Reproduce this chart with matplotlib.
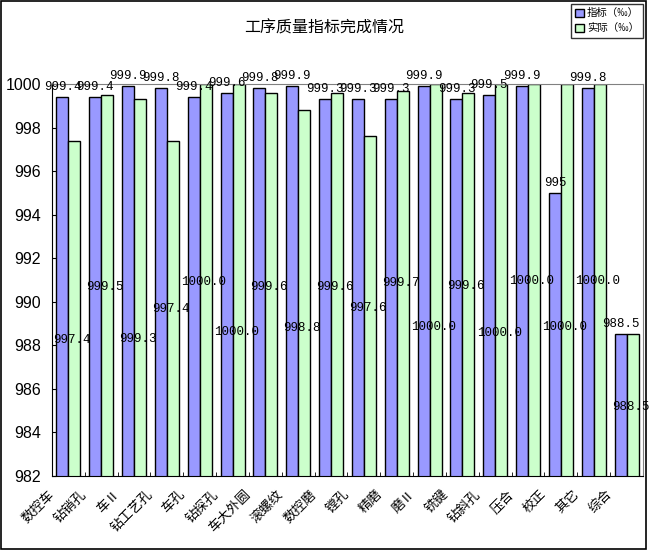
import matplotlib.pyplot as plt
from matplotlib.patches import Rectangle
import matplotlib.transforms as mtransforms
import numpy as np

plt.rcParams['font.family'] = ['Noto Sans CJK SC', 'DejaVu Sans']

# categories and values
categories = ['数控车', '钻销孔', '车Ⅱ', '钻工艺孔', '车孔', '钻探孔', '车大外圆', '滚螺纹', '数控磨',
              '镗孔', '精磨', '磨Ⅱ', '铣键', '钻斜孔', '压合', '校正', '其它', '综合']
target = [999.4, 999.4, 999.9, 999.8, 999.4, 999.6, 999.8, 999.9, 999.3,
          999.3, 999.3, 999.9, 999.3, 999.5, 999.9, 995, 999.8, 988.5]
actual = [997.4, 999.5, 999.3, 997.4, 1000.0, 1000.0, 999.6, 998.8, 999.6,
          997.6, 999.7, 1000.0, 999.6, 1000.0, 1000.0, 1000.0, 1000.0, 988.5]
target_text = ['999.4', '999.4', '999.9', '999.8', '999.4', '999.6', '999.8', '999.9', '999.3',
               '999.3', '999.3', '999.9', '999.3', '999.5', '999.9', '995', '999.8', '988.5']
actual_text = ['997.4', '999.5', '999.3', '997.4', '1000.0', '1000.0', '999.6', '998.8', '999.6',
               '997.6', '999.7', '1000.0', '999.6', '1000.0', '1000.0', '1000.0', '1000.0', '988.5']
# where the "actual" labels were dragged to (data units on the y axis)
actual_label_y = [988.25, 990.68, 988.29, 989.67, 990.91, 988.61, 990.68, 988.80, 990.68,
                  989.72, 990.86, 988.84, 990.73, 988.57, 990.95, 988.84, 990.95, 985.17]

fig = plt.figure(figsize=(6.5, 5.53), dpi=100)
ax = fig.add_axes([0.08, 0.1392, 0.9092, 0.7089])

x = np.arange(len(categories))
w = 0.366
ax.bar(x - w / 2, target, w, bottom=0, color='#9999FF', edgecolor='black', linewidth=1.0,
       label='指标（‰）')
ax.bar(x + w / 2, actual, w, bottom=0, color='#CCFFCC', edgecolor='black', linewidth=1.0,
       label='实际（‰）')

ax.set_ylim(982, 1000)
ax.set_xlim(-0.5, len(categories) - 0.5)
ax.set_yticks(np.arange(982, 1001, 2))
ax.set_yticklabels([str(v) for v in range(982, 1001, 2)], family='Liberation Sans', fontsize=11.5)
ax.tick_params(axis='y', direction='in', length=3, pad=8)

ax.set_xticks(x)
ax.set_xticklabels(categories, rotation=45, ha='right', fontsize=9.5)
ax.tick_params(axis='x', length=0, pad=7)
shift = mtransforms.ScaledTranslation(-12 / 100, -2 / 100, fig.dpi_scale_trans)
for lab in ax.get_xticklabels():
    lab.set_transform(lab.get_transform() + shift)
ax.set_xticks(np.arange(-0.5, len(categories), 1), minor=True)
ax.tick_params(axis='x', which='minor', direction='in', length=3)

for s in ['top', 'right']:
    ax.spines[s].set_color('#808080')
for s in ['left', 'bottom']:
    ax.spines[s].set_color('black')

for i in range(len(categories)):
    ax.annotate(target_text[i], (x[i] - w / 2, target[i]), xytext=(0, 3), textcoords='offset points',
                ha='center', va='bottom', family='Liberation Mono', fontsize=9, annotation_clip=False)
    ax.text(x[i] + 0.12, actual_label_y[i], actual_text[i], ha='center', va='center',
            family='Liberation Mono', fontsize=9, clip_on=False)

fig.text(0.498, 0.949, '工序质量指标完成情况', ha='center', va='center', fontsize=11.5)

leg = fig.legend(loc='upper right', bbox_to_anchor=(643 / 650, 1 - 4 / 553), fontsize=7.5,
                 frameon=True, fancybox=False, edgecolor='black', handlelength=0.8, handleheight=0.8,
                 handletextpad=0.3, borderpad=0.4, labelspacing=0.5, borderaxespad=0)
leg.get_frame().set_linewidth(1.0)

fig.patches.append(Rectangle((0.002, 0.007), 645 / 650, 548 / 553, transform=fig.transFigure,
                             fill=False, edgecolor='black', linewidth=1.2))

fig.savefig('out.png', dpi=100)
